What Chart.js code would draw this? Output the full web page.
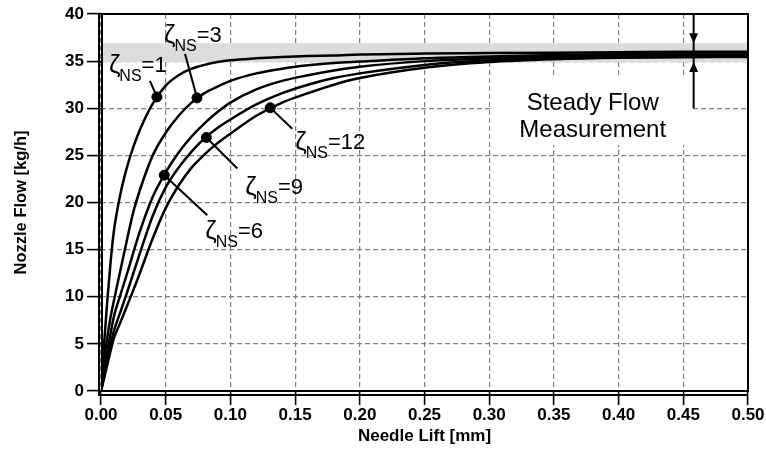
<!DOCTYPE html>
<html>
<head>
<meta charset="utf-8">
<script src="https://cdn.jsdelivr.net/npm/chart.js@4.4.1/dist/chart.umd.min.js"></script>
<style>
  html, body { margin: 0; padding: 0; background: #fff; }
  #wrap { width: 766px; height: 452px; }
</style>
</head>
<body>
<div id="wrap"><canvas id="flowChart" width="766" height="452"></canvas></div>
<script>
// needle lift [mm] shared by all curves
const lift = [0, 0.0025, 0.005, 0.0075, 0.01, 0.015, 0.02, 0.025, 0.03, 0.04, 0.05, 0.06, 0.07, 0.08, 0.09,
  0.10, 0.12, 0.14, 0.16, 0.18, 0.20, 0.25, 0.30, 0.35, 0.40, 0.45, 0.50];

// nozzle flow [kg/h] per zeta_NS
const flowZeta1 = [0, 5.2, 9.8, 13.8, 17.0, 20.9, 23.7, 25.9, 27.7, 30.5, 32.4, 33.5, 34.2, 34.6, 34.9,
  35.1, 35.3, 35.45, 35.55, 35.6, 35.7, 35.8, 35.85, 35.9, 35.95, 36.0, 36.0];
const flowZeta3 = [0, 3.2, 5.8, 7.9, 9.6, 12.8, 16.0, 19.0, 21.3, 25.0, 27.4, 29.2, 30.6, 31.6, 32.3,
  32.9, 33.7, 34.2, 34.55, 34.8, 34.95, 35.3, 35.5, 35.65, 35.75, 35.8, 35.85];
const flowZeta6 = [0, 2.2, 4.3, 6.2, 7.9, 10.2, 12.4, 14.7, 16.9, 20.6, 23.2, 25.3, 27.0, 28.4, 29.6,
  30.6, 32.0, 32.9, 33.5, 34.0, 34.4, 35.0, 35.3, 35.5, 35.6, 35.65, 35.7];
const flowZeta9 = [0, 1.7, 3.4, 5.0, 6.4, 8.4, 10.4, 12.5, 14.6, 18.6, 21.6, 23.7, 25.4, 26.8, 27.9,
  28.8, 30.4, 31.6, 32.5, 33.2, 33.7, 34.6, 35.1, 35.3, 35.45, 35.5, 35.55];
const flowZeta12 = [0, 1.4, 2.9, 4.3, 5.6, 7.3, 9.0, 10.7, 12.5, 16.2, 19.4, 21.8, 23.7, 25.1, 26.3,
  27.3, 29.2, 30.6, 31.6, 32.5, 33.2, 34.3, 34.9, 35.2, 35.35, 35.4, 35.45];

const zetaNames = ['1', '3', '6', '9', '12'];
const flows = [flowZeta1, flowZeta3, flowZeta6, flowZeta9, flowZeta12];

// labelled points on each curve
const markerLift = [0.0432, 0.0742, 0.0489, 0.0814, 0.1308];
const markerFlow = [31.2, 31.1, 22.9, 26.9, 30.05];

// steady flow measurement band + arrow
const steadyBand = [34.9, 36.9];
const arrowLift = 0.458;
const arrowLowFlow = 30;

const liftTicks = [0, 0.05, 0.10, 0.15, 0.20, 0.25, 0.30, 0.35, 0.40, 0.45, 0.50];
const flowTicks = [0, 5, 10, 15, 20, 25, 30, 35, 40];

const FONT = '"Liberation Sans", Arial, sans-serif';

// label offsets from the marker dot: leader end, text start/baseline
const labelLayout = [
  { lx: -7, ly: -16, tx: -48, ty: -25 },
  { lx: -12, ly: -44, tx: -33, ty: -56 },
  { lx: 43, ly: 40, tx: 41, ty: 63 },
  { lx: 31, ly: 31, tx: 39, ty: 57 },
  { lx: 22, ly: 21, tx: 25, ty: 41 },
];

function drawZeta(ctx, x0, base, n) {
  ctx.fillStyle = '#000';
  ctx.textAlign = 'left';
  ctx.textBaseline = 'alphabetic';
  ctx.font = '26px ' + FONT;
  ctx.fillText('ζ', x0, base + 1);
  let x = x0 + ctx.measureText('ζ').width - 1;
  ctx.font = '16px ' + FONT;
  ctx.fillText('NS', x, base + 9);
  x += ctx.measureText('NS').width;
  ctx.font = '22px ' + FONT;
  ctx.fillText('=' + n, x, base);
}

const decorations = {
  id: 'decorations',
  beforeDatasetsDraw(chart) {
    const { ctx, chartArea: a, scales: { y } } = chart;
    const top = y.getPixelForValue(steadyBand[1]);
    const bot = y.getPixelForValue(steadyBand[0]);
    ctx.save();
    ctx.fillStyle = '#dcdcdc';
    ctx.fillRect(a.left, top, a.right - a.left, bot - top);
    ctx.restore();
  },
  afterDatasetsDraw(chart) {
    const { ctx, chartArea: a, scales: { x, y } } = chart;
    ctx.save();

    // text box
    const cx = x.getPixelForValue(0.38);
    const ax = x.getPixelForValue(arrowLift);
    ctx.fillStyle = '#fff';
    ctx.fillRect(490, 77, ax - 1 - 490, 68);
    ctx.fillStyle = '#000';
    ctx.font = '24px ' + FONT;
    ctx.textAlign = 'center';
    ctx.textBaseline = 'middle';
    ctx.fillText('Steady Flow', cx, 103);
    ctx.fillText('Measurement', cx, 130);

    // arrow
    const bandTop = y.getPixelForValue(steadyBand[1]);
    const bandBot = y.getPixelForValue(steadyBand[0]);
    ctx.strokeStyle = '#000';
    ctx.lineWidth = 2;
    ctx.beginPath();
    ctx.moveTo(ax, a.top);
    ctx.lineTo(ax, y.getPixelForValue(arrowLowFlow));
    ctx.stroke();
    ctx.beginPath();
    ctx.moveTo(ax, bandTop);
    ctx.lineTo(ax - 4.5, bandTop - 10);
    ctx.lineTo(ax + 4.5, bandTop - 10);
    ctx.closePath();
    ctx.moveTo(ax, bandBot);
    ctx.lineTo(ax - 4.5, bandBot + 10);
    ctx.lineTo(ax + 4.5, bandBot + 10);
    ctx.closePath();
    ctx.fill();

    // zeta labels with leader lines
    markerLift.forEach((mx, i) => {
      const px = x.getPixelForValue(mx);
      const py = y.getPixelForValue(markerFlow[i]);
      const L = labelLayout[i];
      ctx.beginPath();
      ctx.moveTo(px, py);
      ctx.lineTo(px + L.lx, py + L.ly);
      ctx.lineWidth = 2;
      ctx.stroke();
      drawZeta(ctx, px + L.tx, py + L.ty, zetaNames[i]);
    });
    ctx.restore();
  },
  afterDraw(chart) {
    const { ctx, chartArea: a } = chart;
    ctx.save();
    ctx.strokeStyle = '#000';
    ctx.lineWidth = 2;
    ctx.strokeRect(a.left + 1, a.top, a.right - a.left - 1, a.bottom - a.top);
    ctx.beginPath();
    ctx.moveTo(a.left - 2, a.top);
    ctx.lineTo(a.left - 2, a.bottom + 4);
    ctx.lineTo(a.right, a.bottom + 4);
    ctx.stroke();
    ctx.restore();
  }
};

const gridStyle = {
  color: '#808080',
  lineWidth: 1.2,
  borderDash: [5, 3],
  drawTicks: true,
  tickLength: 14,
  tickColor: '#000',
  tickWidth: 1.6,
  tickBorderDash: [],
};

const curveSets = flows.map((f, i) => ({
  label: 'ζNS=' + zetaNames[i],
  data: lift.map((v, j) => ({ x: v, y: f[j] })),
  borderColor: '#000',
  borderWidth: 2.5,
  pointRadius: 0,
  fill: false,
  cubicInterpolationMode: 'monotone',
}));

new Chart(document.getElementById('flowChart'), {
  type: 'line',
  data: {
    datasets: [
      ...curveSets,
      {
        type: 'scatter',
        label: 'markers',
        data: markerLift.map((v, i) => ({ x: v, y: markerFlow[i] })),
        pointRadius: 5,
        pointBackgroundColor: '#000',
        pointBorderColor: '#000',
        showLine: false,
      }
    ]
  },
  options: {
    responsive: false,
    animation: false,
    layout: { padding: { left: 0, right: 18, top: 14, bottom: 0 } },
    plugins: { legend: { display: false }, tooltip: { enabled: false } },
    scales: {
      x: {
        type: 'linear',
        min: 0,
        max: 0.5,
        afterFit: s => { s.height = 61; },
        afterBuildTicks: s => { s.ticks = liftTicks.map(v => ({ value: v })); },
        grid: gridStyle,
        border: { display: false, dash: [5, 3] },
        ticks: {
          color: '#000',
          padding: 0,
          maxRotation: 0,
          font: { family: FONT, size: 17, weight: 'bold' },
          callback: v => Number(v).toFixed(2),
        },
        title: {
          display: true,
          text: 'Needle Lift [mm]',
          color: '#000',
          font: { family: FONT, size: 17, weight: 'bold' },
          padding: { top: 0, bottom: 5 },
        },
      },
      y: {
        type: 'linear',
        min: 0,
        max: 40,
        afterFit: s => { s.width = 101; },
        afterBuildTicks: s => { s.ticks = flowTicks.map(v => ({ value: v })); },
        grid: gridStyle,
        border: { display: false, dash: [5, 3] },
        ticks: {
          color: '#000',
          padding: 3,
          font: { family: FONT, size: 17, weight: 'bold' },
        },
        title: {
          display: true,
          text: 'Nozzle Flow [kg/h]',
          color: '#000',
          font: { family: FONT, size: 16.5, weight: 'bold' },
          padding: { top: 12, bottom: 0 },
        },
      },
    },
  },
  plugins: [decorations],
});
</script>
</body>
</html>
